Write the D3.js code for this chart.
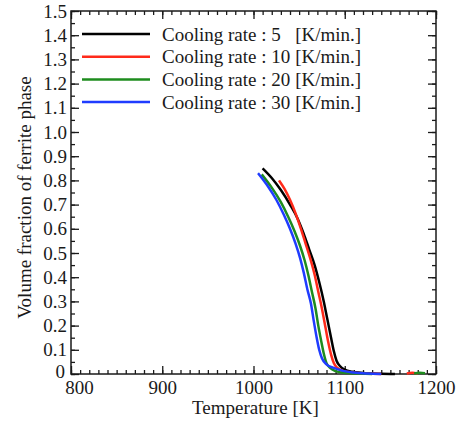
<!DOCTYPE html>
<html>
<head>
<meta charset="utf-8">
<script src="https://cdn.jsdelivr.net/npm/d3@7"></script>
<style>
  html, body { margin: 0; padding: 0; background: #fff; }
</style>
</head>
<body>
<div id="chart"></div>
<script>
// ─── Data (temperature [K], volume fraction) ───
const rates = ["5", "10", "20", "30"];
const colors = ["#000000", "#ff2a1a", "#1e8c1e", "#1f3cff"];

const black5 = [[1010,0.85],[1020,0.81],[1030,0.76],[1040,0.70],[1048,0.645],[1055,0.58],[1061,0.515],[1067,0.45],[1072,0.38],[1077,0.30],[1081,0.225],[1085,0.15],[1088,0.095],[1091,0.055],[1095,0.032],[1100,0.018],[1108,0.009],[1120,0.004],[1140,0.001],[1155,0]];
const red10 = [[1028,0.80],[1034,0.765],[1040,0.72],[1046,0.665],[1052,0.60],[1057,0.54],[1062,0.48],[1067,0.41],[1071,0.34],[1075,0.27],[1079,0.19],[1082,0.13],[1085,0.08],[1088,0.045],[1092,0.025],[1098,0.013],[1108,0.006],[1125,0.002],[1140,0],[1150,null],[1168,0.002],[1174,0.005],[1180,0.002]];
const green20 = [[1009,0.825],[1020,0.77],[1030,0.71],[1038,0.65],[1045,0.59],[1051,0.53],[1056,0.47],[1060,0.41],[1064,0.34],[1068,0.27],[1071,0.20],[1074,0.14],[1077,0.085],[1080,0.045],[1084,0.025],[1090,0.012],[1100,0.005],[1115,0.002],[1130,0],[1150,null],[1176,0.002],[1182,0.005],[1188,0.003]];
const blue30 = [[1005,0.83],[1015,0.78],[1025,0.72],[1033,0.66],[1040,0.60],[1046,0.54],[1051,0.48],[1055,0.42],[1059,0.35],[1063,0.29],[1066,0.22],[1069,0.155],[1072,0.10],[1075,0.065],[1080,0.04],[1088,0.025],[1098,0.013],[1110,0.006],[1125,0.002],[1140,0]];
const series = [black5, red10, green20, blue30];

const xTicks = [800, 900, 1000, 1100, 1200];
const yTicks = [0, 0.1, 0.2, 0.3, 0.4, 0.5, 0.6, 0.7, 0.8, 0.9, 1.0, 1.1, 1.2, 1.3, 1.4, 1.5];

// ─── Layout ───
const width = 460, height = 423;
const margin = { top: 11, right: 24, bottom: 49, left: 71 };
const iw = width - margin.left - margin.right;
const ih = height - margin.top - margin.bottom;
const FONT = "Liberation Serif, Times New Roman, serif";
const ink = "#1a1a1a";

const svg = d3.select("#chart").append("svg")
  .attr("width", width).attr("height", height)
  .attr("font-family", FONT);

svg.append("rect").attr("width", width).attr("height", height).attr("fill", "#fff");

const g = svg.append("g").attr("transform", `translate(${margin.left},${margin.top})`);

const x = d3.scaleLinear().domain([800, 1200]).range([0, iw]);
const y = d3.scaleLinear().domain([0, 1.5]).range([ih, 0]);

const xMinor = d3.range(800, 1201, 10);
const yMinor = d3.range(0, 31).map(i => +(i * 0.05).toFixed(2));
const fmtY = d => d === 0 ? "0" : d3.format(".1f")(d);

// ─── Axes (ticks point inward) ───
function styleAxis(sel) {
  sel.attr("font-family", FONT).attr("font-size", 19);
  sel.select(".domain").remove();
  sel.selectAll("line").attr("stroke", ink).attr("stroke-width", 1.3);
  sel.selectAll("text").attr("fill", ink);
}

// bottom
g.append("g").attr("transform", `translate(0,${ih})`)
  .call(d3.axisBottom(x).tickValues(xMinor).tickSize(-4).tickFormat(""))
  .call(styleAxis);
const xAx = g.append("g").attr("transform", `translate(0,${ih})`)
  .call(d3.axisBottom(x).tickValues(xTicks).tickSize(-8).tickPadding(7).tickFormat(d3.format("d")))
  .call(styleAxis);
xAx.selectAll(".tick").filter(d => d === 800).select("text").attr("dx", 8);

// top
g.append("g")
  .call(d3.axisTop(x).tickValues(xMinor).tickSize(-4).tickFormat(""))
  .call(styleAxis);
g.append("g")
  .call(d3.axisTop(x).tickValues(xTicks).tickSize(-8).tickFormat(""))
  .call(styleAxis);

// left
g.append("g")
  .call(d3.axisLeft(y).tickValues(yMinor).tickSize(-4).tickFormat(""))
  .call(styleAxis);
const yAx = g.append("g")
  .call(d3.axisLeft(y).tickValues(yTicks).tickSize(-8).tickPadding(4).tickFormat(fmtY))
  .call(styleAxis);
yAx.selectAll(".tick").filter(d => d === 0).select("text").attr("dx", -2).attr("dy", "0.2em");

// right
g.append("g").attr("transform", `translate(${iw},0)`)
  .call(d3.axisRight(y).tickValues(yMinor).tickSize(-4).tickFormat(""))
  .call(styleAxis);
g.append("g").attr("transform", `translate(${iw},0)`)
  .call(d3.axisRight(y).tickValues(yTicks).tickSize(-8).tickFormat(""))
  .call(styleAxis);

// frame
g.append("rect")
  .attr("width", iw).attr("height", ih)
  .attr("fill", "none").attr("stroke", ink).attr("stroke-width", 1.5);

// ─── Curves ───
const line = d3.line()
  .defined(d => d[1] != null)
  .x(d => x(d[0]))
  .y(d => y(d[1]))
  .curve(d3.curveMonotoneX);

g.selectAll(".curve")
  .data(series).enter().append("path")
    .attr("class", "curve")
    .attr("d", line)
    .attr("fill", "none")
    .attr("stroke", (d, i) => colors[i])
    .attr("stroke-width", 2.5)
    .attr("stroke-linejoin", "round");

// ─── Legend ───
const leg = g.append("g").attr("transform", "translate(11,23)")
  .attr("font-size", 19).attr("fill", ink);
const rowH = 22.7;
rates.forEach((r, i) => {
  const row = leg.append("g").attr("transform", `translate(0,${i * rowH})`);
  row.append("line").attr("x1", 0).attr("x2", 68)
    .attr("stroke", colors[i]).attr("stroke-width", 2.5);
  row.append("text").attr("x", 80).attr("dy", "0.35em")
    .text(`Cooling rate : ${r}`);
});
// align the unit column after the widest label
const probe = leg.append("text").text("Cooling rate : 10");
const unitX = 80 + probe.node().getComputedTextLength() + 5;
probe.remove();
rates.forEach((r, i) => {
  leg.append("text").attr("x", unitX).attr("y", i * rowH).attr("dy", "0.35em")
    .text("[K/min.]");
});

// ─── Axis titles ───
svg.append("text")
  .attr("x", margin.left + iw / 2 + 2).attr("y", 414)
  .attr("text-anchor", "middle").attr("font-size", 19).attr("fill", ink)
  .text("Temperature [K]");

svg.append("text")
  .attr("transform", `translate(31,${margin.top + ih / 2 + 5}) rotate(-90)`)
  .attr("text-anchor", "middle").attr("font-size", 19).attr("fill", ink)
  .text("Volume fraction of ferrite phase");
</script>
</body>
</html>
